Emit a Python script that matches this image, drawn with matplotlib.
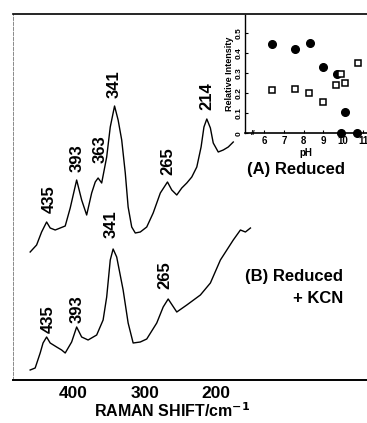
import numpy as np
import matplotlib
matplotlib.use("Agg")
import matplotlib.pyplot as plt

plt.rcParams['font.family'] = ['Liberation Sans', 'DejaVu Sans']
plt.rcParams['font.weight'] = 'bold'
plt.rcParams['mathtext.default'] = 'bf'

# spectrum (A) reduced: Raman shift (cm-1) and intensity (arb. units)
wn_a = [460, 451, 444, 437, 432, 425, 418, 411, 404, 395, 388, 381, 374, 369,
        365, 360, 353, 348, 342, 337, 332, 327, 323, 318, 313, 306, 297, 288,
        278, 268, 262, 255, 248, 241, 234, 227, 221, 217, 213, 208, 204, 197,
        190, 183, 176]
int_a = [128, 135, 148, 158, 152, 150, 152, 154, 172, 200, 180, 165, 187, 198,
         202, 197, 223, 253, 274, 260, 240, 207, 173, 153, 147, 148, 153, 167,
         187, 198, 190, 185, 192, 197, 203, 213, 233, 253, 261, 252, 237, 228,
         230, 233, 238]

# spectrum (B) reduced + KCN
wn_b = [460, 453, 446, 442, 437, 432, 423, 416, 411, 402, 395, 388, 379, 367,
        358, 353, 348, 344, 339, 330, 323, 316, 306, 297, 283, 274, 267, 255,
        241, 222, 208, 194, 176, 166, 159, 152]
int_b = [10, 12, 27, 37, 43, 37, 33, 30, 27, 38, 53, 43, 40, 45,
         60, 83, 120, 131, 123, 90, 57, 37, 38, 41, 57, 73, 81, 68,
         75, 85, 97, 120, 140, 150, 148, 152]

# peak labels: text, position, bottom of label
labels_a = [("435", 434, 167), ("393", 394, 208), ("363", 362, 217),
            ("341", 343, 282), ("265", 268, 205), ("214", 213, 270)]
labels_b = [("435", 435, 47), ("393", 394, 57), ("341", 347, 142),
            ("265", 272, 91)]

# inset: relative intensity vs pH
ph_circ = [6.42, 7.54, 8.3, 9.0, 9.69, 10.1, 9.9, 10.67]
val_circ = [0.445, 0.42, 0.45, 0.33, 0.295, 0.105, 0.0, 0.0]
ph_sq = [6.39, 7.54, 8.27, 9.0, 9.65, 9.9, 10.1, 10.76]
val_sq = [0.215, 0.22, 0.2, 0.155, 0.24, 0.295, 0.25, 0.35]

W, H = 367, 423
fig = plt.figure(figsize=(W/100, H/100), dpi=100)

ax = fig.add_axes([13/W, 43/H, 1 - 13/W, 366/H])
ax.plot(wn_a, int_a, color='black', lw=1.0)
ax.plot(wn_b, int_b, color='black', lw=1.0)
ax.set_xlim(484, -11)
ax.set_ylim(0, 366)
ax.set_xticks([400, 300, 200])
ax.set_xticklabels(['400', '300', '200'], fontsize=12.5, fontweight='bold')
ax.tick_params(axis='x', length=0, pad=4)
ax.set_yticks([])
ax.spines['right'].set_visible(False)
ax.spines['bottom'].set_linewidth(1.4)
ax.spines['top'].set_linewidth(1.2)
ax.spines['left'].set_linewidth(0.6)
ax.spines['left'].set_color('#777777')
ax.spines['left'].set_linestyle((0, (4, 2)))

for txt, x, y in labels_a + labels_b:
    ax.text(x, y, txt, rotation=90, ha='center', va='bottom',
            fontsize=12, fontweight='bold')

fig.text(172/W, 1 - 411/H, r'RAMAN SHIFT/cm$^{-1}$', ha='center',
         va='center', fontsize=11.5, fontweight='bold')
fig.text(296/W, 1 - 169/H, '(A) Reduced', ha='center', va='center',
         fontsize=12, fontweight='bold')
fig.text(343/W, 1 - 277/H, '(B) Reduced', ha='right', va='center',
         fontsize=12, fontweight='bold')
fig.text(343/W, 1 - 298/H, '+ KCN', ha='right', va='center',
         fontsize=12, fontweight='bold')

# inset
axi = fig.add_axes([245/W, 1 - 133.5/H, (W - 245)/W, 118.5/H])
axi.plot(ph_circ, val_circ, 'o', color='black', ms=5.5, clip_on=False)
axi.plot(ph_sq, val_sq, 's', mfc='white', mec='black', mew=1.1, ms=5,
         clip_on=False)
axi.set_xlim(5.04, 11.2)
axi.set_ylim(0, 0.59)
axi.set_xticks([6, 7, 8, 9, 10, 11])
axi.set_xticklabels(['6', '7', '8', '9', '10', '11'], fontsize=7,
                    fontweight='bold')
axi.set_yticks([0, 0.1, 0.2, 0.3, 0.4, 0.5])
axi.set_yticklabels(['0', '0.1', '0.2', '0.3', '0.4', '0.5'], fontsize=6,
                    fontweight='bold', rotation=90, va='center')
axi.tick_params(axis='both', direction='in', length=2, width=0.8, pad=2)
axi.set_xlabel('pH', fontsize=7, fontweight='bold', labelpad=1)
axi.set_ylabel('Relative Intensity', fontsize=6.5, fontweight='bold',
               labelpad=1)
axi.text(5.45, 0.0, '//', ha='center', va='center', fontsize=6)
axi.spines['right'].set_visible(False)
axi.spines['top'].set_visible(False)
axi.spines['left'].set_linewidth(1.0)
axi.spines['bottom'].set_linewidth(1.2)
axi.patch.set_alpha(0)

fig.savefig('out.png', dpi=100)
